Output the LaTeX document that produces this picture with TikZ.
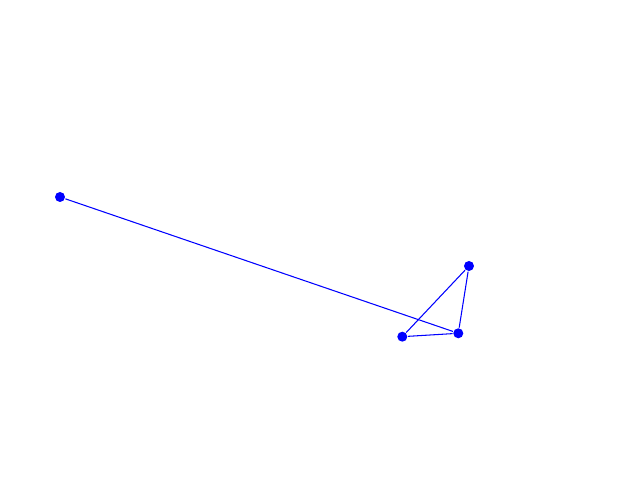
\documentclass[tikz,border=0pt]{standalone}
\usepackage{tikz}

\begin{document}
\begin{tikzpicture}[vertex/.style={circle,fill=blue,inner sep=0pt,minimum size=0.1cm}, arc/.style={draw=blue,line width=0.3pt}]
    \useasboundingbox (0,0) rectangle (6.4,4.8);
    \foreach [count=\i] \coord in {(0.60,2.83),(4.69,2.14),(4.583,1.467),(4.023,1.433)}{
        \node[vertex] (p\i) at \coord {};
    }

    \foreach \a/\b in {1/3,3/2,2/4,4/3}{
        \draw[arc] (p\a) -- (p\b);
    }
\end{tikzpicture}
\end{document}
